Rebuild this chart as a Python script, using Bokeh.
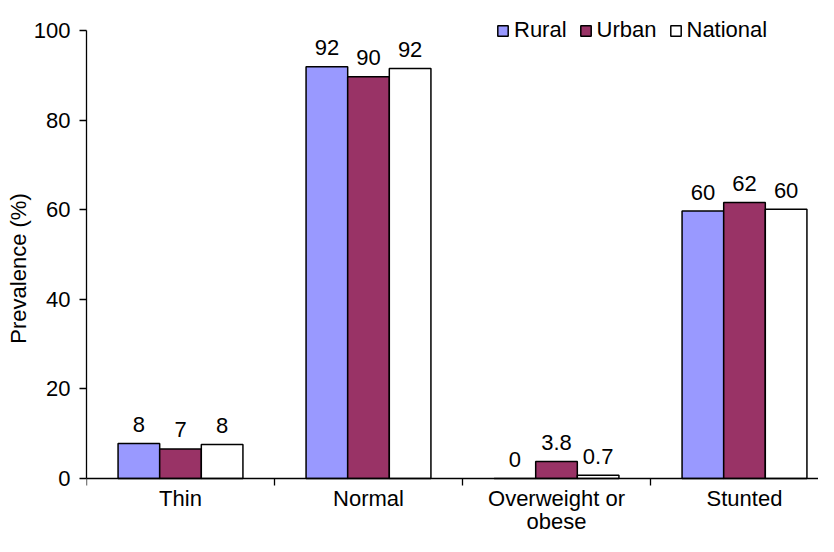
from bokeh.plotting import figure
from bokeh.models import Range1d, FixedTicker, Legend, LegendItem, ColumnDataSource, LabelSet
from bokeh.embed import file_html
from bokeh.resources import INLINE
from bokeh.core.properties import value

categories = ["Thin", "Normal", "Overweight or\nobese", "Stunted"]
series = ["Rural", "Urban", "National"]
rural = [7.8, 91.9, 0.0, 59.7]
urban = [6.6, 89.7, 3.8, 61.6]
national = [7.6, 91.5, 0.7, 60.1]
rural_labels = ["8", "92", "0", "60"]
urban_labels = ["7", "90", "3.8", "62"]
national_labels = ["8", "92", "0.7", "60"]
y_ticks = [0, 20, 40, 60, 80, 100]

colors = ["#9999FF", "#993366", "#FFFFFF"]
FONT = "Liberation Sans"
FS = "22px"
bar_w = 0.2214

p = figure(width=818, height=536, x_range=Range1d(0, 732 / 188), y_range=Range1d(-12.95, 106.70),
           output_backend="svg", toolbar_location=None,
           min_border_left=86, min_border_right=0, min_border_top=0, min_border_bottom=0)
p.outline_line_color = None
p.xgrid.visible = False
p.ygrid.visible = False
p.background_fill_color = "white"

renderers = []
for k, (vals, labs) in enumerate([(rural, rural_labels), (urban, urban_labels), (national, national_labels)]):
    xs = [i + 0.5 + (k - 1) * bar_w for i in range(len(categories))]
    src = ColumnDataSource(dict(x=xs, top=vals, lab=labs))
    r = p.vbar(x="x", top="top", bottom=0, width=bar_w, source=src,
               fill_color=colors[k], line_color="black", line_width=1.5)
    renderers.append(r)
    p.text(x="x", y="top", text="lab", source=src, text_align="center",
           text_baseline="alphabetic", y_offset=-19, text_font=value(FONT),
           text_font_size=FS, text_color="black")

# category labels below the axis (one label set per text line, each centred)
lines = [c.split("\n") for c in categories]
n_lines = max(len(l) for l in lines)
for j in range(n_lines):
    xs = [i + 0.5 for i, l in enumerate(lines) if len(l) > j]
    ts = [l[j] for l in lines if len(l) > j]
    src = ColumnDataSource(dict(x=xs, y=[0] * len(xs), text=ts))
    p.add_layout(LabelSet(x="x", y="y", text="text", source=src, text_align="center",
                          text_baseline="alphabetic", y_offset=-28 - 23 * j,
                          text_font=value(FONT), text_font_size=FS, text_color="black"))

# axes
xa = p.xaxis[0]
xa.fixed_location = 0
xa.ticker = FixedTicker(ticks=[], minor_ticks=[float(i) for i in range(len(categories) + 1)])
xa.major_tick_in = 0
xa.major_tick_out = 0
xa.minor_tick_in = 0
xa.minor_tick_out = 7
xa.minor_tick_line_color = "black"
xa.minor_tick_line_width = 1.3
xa.axis_line_width = 1.3
xa.axis_line_color = "black"
xa.major_label_standoff = 0
xa.major_label_text_font_size = "1px"

ya = p.yaxis[0]
ya.bounds = (0, 100)
ya.ticker = FixedTicker(ticks=y_ticks, minor_ticks=[])
ya.major_tick_in = 0
ya.major_tick_out = 7
ya.major_tick_line_width = 1.3
ya.major_tick_line_color = "black"
ya.axis_line_width = 1.3
ya.axis_line_color = "black"
ya.major_label_standoff = 9
ya.major_label_text_font = FONT
ya.major_label_text_font_size = FS
ya.major_label_text_color = "black"
ya.axis_label = "Prevalence (%)"
ya.axis_label_text_font = FONT
ya.axis_label_text_font_size = FS
ya.axis_label_text_font_style = "normal"
ya.axis_label_text_color = "black"
ya.axis_label_standoff = 0

legend = Legend(items=[LegendItem(label=s, renderers=[r]) for s, r in zip(series, renderers)],
                orientation="horizontal", location=(410, 493),
                background_fill_alpha=0, border_line_color=None,
                padding=0, margin=0, spacing=12, label_standoff=5,
                glyph_width=13, glyph_height=13,
                label_text_font=FONT, label_text_font_size=FS, label_text_color="black")
p.add_layout(legend, "center")

open("out.html", "w").write(file_html(p, INLINE))
